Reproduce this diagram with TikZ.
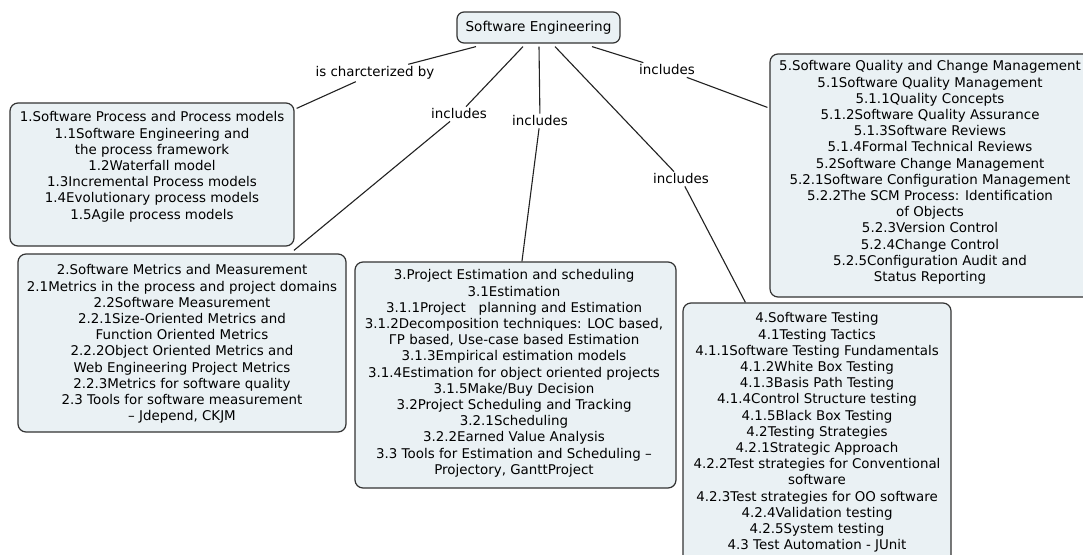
\documentclass[tikz,border=0pt]{standalone}
\usepackage{fontspec}
\setmainfont{DejaVu Sans}
\usetikzlibrary{fit,calc}
\definecolor{boxfill}{HTML}{EAF1F4}
\definecolor{boxline}{HTML}{333333}
\definecolor{conn}{HTML}{222222}
\tikzset{
  box/.style={draw=boxline, fill=boxfill, line width=1.2pt, rounded corners=8pt, inner sep=0pt},
  txt/.style={align=center, inner sep=0pt, anchor=north, font=\fontsize{13.4}{16.2}\selectfont, text=black},
  lbl/.style={align=center, inner xsep=3pt, inner ysep=2pt, font=\fontsize{13.4}{16.2}\selectfont, text=black},
  conline/.style={draw=conn, line width=1.1pt}
}
\begin{document}
\begin{tikzpicture}[x=1pt,y=-1pt]
\useasboundingbox (0,0) rectangle (1083,554);
\clip (0,0) rectangle (1083,554);
\fill[white] (0,0) rectangle (1083,554);

% root
\node[box, rounded corners=7pt, minimum width=163pt, minimum height=31pt, font=\fontsize{13.6}{16.2}\selectfont] (root) at (538.5,27.5) {Software Engineering};

% boxes
\coordinate (b1a) at (10,103);  \coordinate (b1b) at (294,246);
\coordinate (b2a) at (18,254);  \coordinate (b2b) at (346,432);
\coordinate (b3a) at (355,262); \coordinate (b3b) at (676,488);
\coordinate (b4a) at (683,303); \coordinate (b4b) at (951,575);
\coordinate (b5a) at (770,54);  \coordinate (b5b) at (1095,297);
\node[box, fit=(b1a)(b1b)] (b1) {};
\node[box, fit=(b2a)(b2b)] (b2) {};
\node[box, fit=(b3a)(b3b)] (b3) {};
\node[box, fit=(b4a)(b4b)] (b4) {};
\node[box, fit=(b5a)(b5b)] (b5) {};

\node[txt] (t1) at (152,111.5) {1.Software Process and Process models\\1.1Software Engineering and\\the process framework\\1.2Waterfall model\\1.3Incremental Process models\\1.4Evolutionary process models\\1.5Agile process models};
\node[txt] (t2) at (182,264.5) {2.Software Metrics and Measurement\\2.1Metrics in the process and project domains\\2.2Software Measurement\\2.2.1Size-Oriented Metrics and\\Function Oriented Metrics\\2.2.2Object Oriented Metrics and\\Web Engineering Project Metrics\\2.2.3Metrics for software quality\\2.3 Tools for software measurement\\– Jdepend, CKJM};
\node[txt] (t3) at (514,269.5) {3.Project Estimation and scheduling\\3.1Estimation\\3.1.1Project\ \ \ planning and Estimation\\3.1.2Decomposition techniques: LOC based,\\ГP based, Use-case based Estimation\\3.1.3Empirical estimation models\\3.1.4Estimation for object oriented projects\\3.1.5Make/Buy Decision\\3.2Project Scheduling and Tracking\\3.2.1Scheduling\\3.2.2Earned Value Analysis\\3.3 Tools for Estimation and Scheduling –\\Projectory, GanttProject};
\node[txt] (t4) at (817,312.5) {4.Software Testing\\4.1Testing Tactics\\4.1.1Software Testing Fundamentals\\4.1.2White Box Testing\\4.1.3Basis Path Testing\\4.1.4Control Structure testing\\4.1.5Black Box Testing\\4.2Testing Strategies\\4.2.1Strategic Approach\\4.2.2Test strategies for Conventional\\software\\4.2.3Test strategies for OO software\\4.2.4Validation testing\\4.2.5System testing\\4.3 Test Automation - JUnit};
\node[txt] (t5) at (930,60.5) {5.Software Quality and Change Management\\5.1Software Quality Management\\5.1.1Quality Concepts\\5.1.2Software Quality Assurance\\5.1.3Software Reviews\\5.1.4Formal Technical Reviews\\5.2Software Change Management\\5.2.1Software Configuration Management\\5.2.2The SCM Process: Identification\\of Objects\\5.2.3Version Control\\5.2.4Change Control\\5.2.5Configuration Audit and\\Status Reporting};

% linking labels
\node[lbl] (l1) at (375,73) {is charcterized by};
\node[lbl] (l2) at (459,114) {includes};
\node[lbl] (l3) at (540,121) {includes};
\node[lbl] (l4) at (681,179) {includes};
\node[lbl] (l5) at (667,70) {includes};

% connector end points
\coordinate (r1) at ($(root.south)+(-62.5,3)$);
\coordinate (r2) at ($(root.south)+(-15.5,3)$);
\coordinate (r3) at ($(root.south)+(0.5,3)$);
\coordinate (r4) at ($(root.south)+(16.5,3)$);
\coordinate (r5) at ($(root.south)+(53.5,3)$);
\coordinate (e1) at ($(b1.north east)+(2,6)$);
\coordinate (e2) at ($(b2.north west)!0.84!(b2.north east)+(0,-3)$);
\coordinate (e3) at ($(b3.north west)!0.52!(b3.north east)$);
\coordinate (e4) at ($(b4.north west)!0.234!(b4.north east)$);
\coordinate (e5) at ($(b5.north west)+(-2,54)$);

\draw[conline] (r1) -- (l1);
\draw[conline] (l1) -- (e1);
\draw[conline] (r2) -- (l2);
\draw[conline] (l2) -- (e2);
\draw[conline] (r3) -- (l3);
\draw[conline] (l3) -- (e3);
\draw[conline] (r4) -- (l4);
\draw[conline] (l4) -- (e4);
\draw[conline] (r5) -- (l5);
\draw[conline] (l5) -- (e5);
\end{tikzpicture}
\end{document}
